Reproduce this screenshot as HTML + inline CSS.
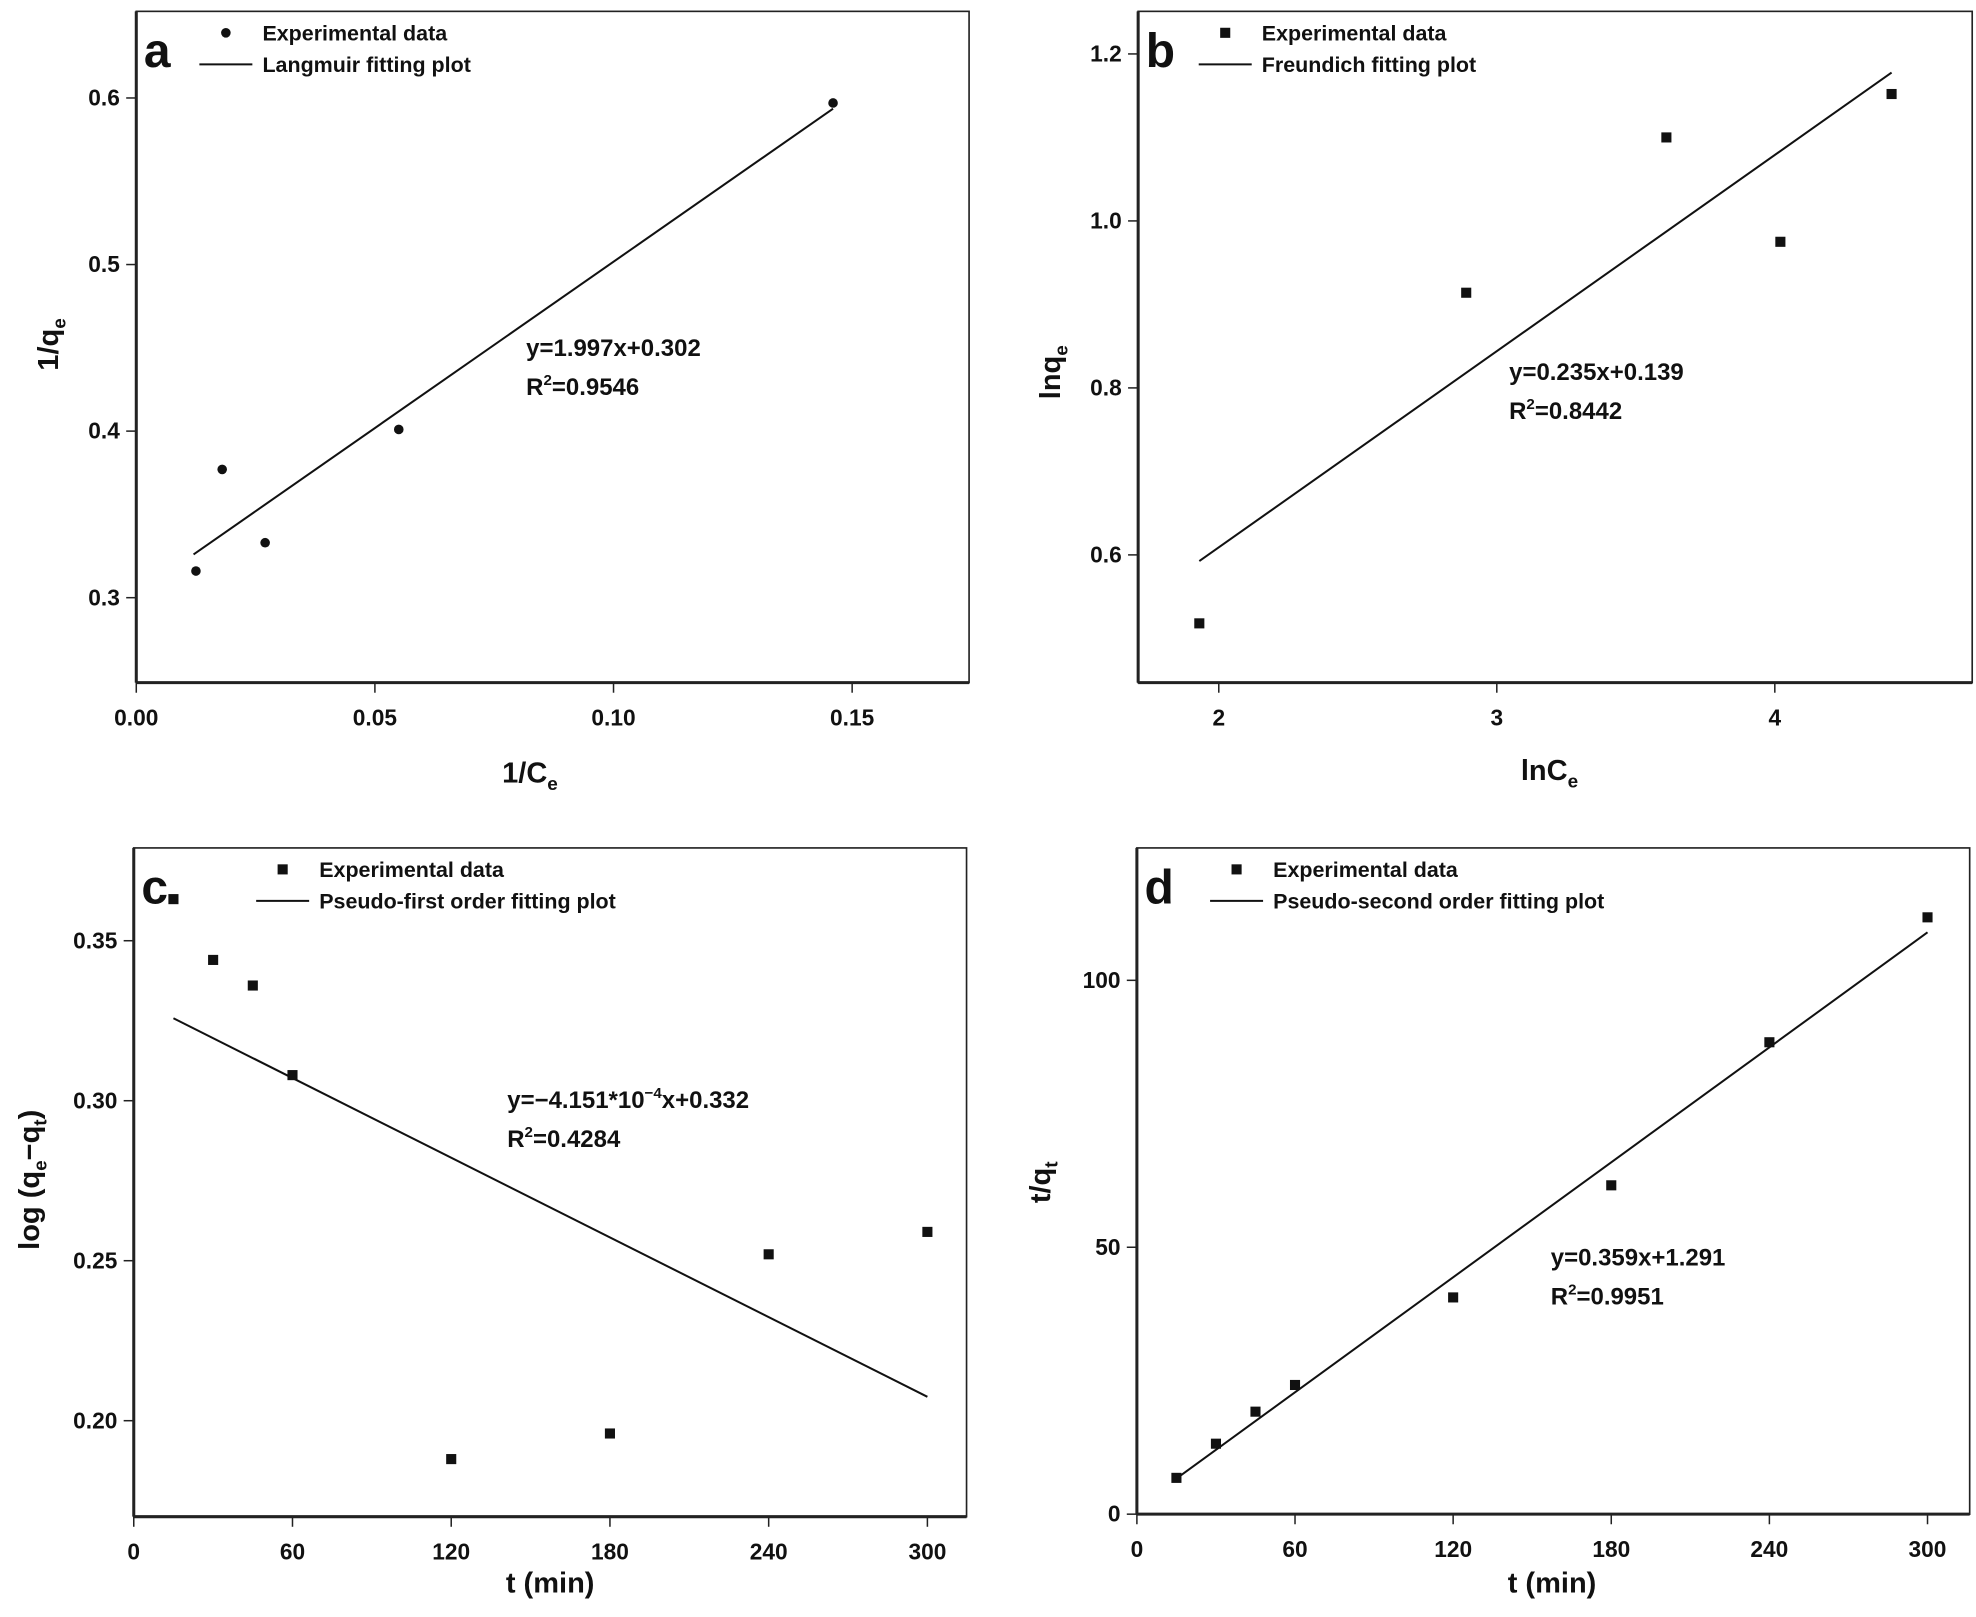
<!DOCTYPE html>
<html><head><meta charset="utf-8"><style>
html,body{margin:0;padding:0;background:#fff}
svg{display:block}
text{font-family:"Liberation Sans",Arial,sans-serif;fill:#111}
</style></head><body>
<svg id="fig" width="1976" height="1617" viewBox="0 0 1566 1281.5" xmlns="http://www.w3.org/2000/svg"></svg>
<script>
// Panel a: Langmuir
const aX = [0.0125, 0.018, 0.027, 0.055, 0.146];
const aY = [0.316, 0.377, 0.333, 0.401, 0.597];
const aFitX = [0.012, 0.146];
const aFitSlope = 1.997, aFitIntercept = 0.302;
const aXTicks = [0, 0.05, 0.10, 0.15];
const aXTickLabels = ["0.00", "0.05", "0.10", "0.15"];
const aYTicks = [0.3, 0.4, 0.5, 0.6];
const aYTickLabels = ["0.3", "0.4", "0.5", "0.6"];
// Panel b: Freundlich
const bX = [1.93, 2.89, 3.61, 4.02, 4.42];
const bY = [0.518, 0.914, 1.100, 0.975, 1.152];
const bFitX = [1.93, 4.42];
const bFitSlope = 0.235, bFitIntercept = 0.139;
const bXTicks = [2, 3, 4];
const bXTickLabels = ["2", "3", "4"];
const bYTicks = [0.6, 0.8, 1.0, 1.2];
const bYTickLabels = ["0.6", "0.8", "1.0", "1.2"];
// Panel c: pseudo-first order
const cX = [15, 30, 45, 60, 120, 180, 240, 300];
const cY = [0.363, 0.344, 0.336, 0.308, 0.188, 0.196, 0.252, 0.259];
const cFitX = [15, 300];
const cFitSlope = -4.151e-4, cFitIntercept = 0.332;
const cXTicks = [0, 60, 120, 180, 240, 300];
const cXTickLabels = ["0", "60", "120", "180", "240", "300"];
const cYTicks = [0.20, 0.25, 0.30, 0.35];
const cYTickLabels = ["0.20", "0.25", "0.30", "0.35"];
// Panel d: pseudo-second order
const dX = [15, 30, 45, 60, 120, 180, 240, 300];
const dY = [6.8, 13.2, 19.2, 24.2, 40.6, 61.6, 88.4, 111.8];
const dFitX = [15, 300];
const dFitSlope = 0.359, dFitIntercept = 1.291;
const dXTicks = [0, 60, 120, 180, 240, 300];
const dXTickLabels = ["0", "60", "120", "180", "240", "300"];
const dYTicks = [0, 50, 100];
const dYTickLabels = ["0", "50", "100"];

const NS = "http://www.w3.org/2000/svg";
const svg = document.getElementById("fig");
function mk(tag, attrs, parent, txt) {
  const e = document.createElementNS(NS, tag);
  for (const k in attrs) e.setAttribute(k, attrs[k]);
  if (txt !== undefined) e.innerHTML = txt;
  (parent || svg).appendChild(e);
  return e;
}

function panel(p) {
  const g = mk("g", {});
  
  
  const sx = v => p.L + (v - p.xmin) / (p.xmax - p.xmin) * (p.R - p.L);
  const sy = v => p.B - (v - p.ymin) / (p.ymax - p.ymin) * (p.B - p.T);
  // frame
  const fr = mk("rect", {x: p.L, y: p.T, width: p.R - p.L, height: p.B - p.T, fill: "none", stroke: "#222", "stroke-width": 1.3}, g);
  
  
  mk("line", {x1: p.L, y1: p.B, x2: p.R, y2: p.B, stroke: "#222", "stroke-width": 2.4}, g);
  mk("line", {x1: p.L, y1: p.T, x2: p.L, y2: p.B, stroke: "#222", "stroke-width": 2.4}, g);
  // x ticks
  const xt = mk("g", {}, g);
  
  
  p.xTicks.forEach((v, i) => {
    const x = sx(v);
    mk("line", {x1: x, y1: p.B, x2: x, y2: p.B + 8, stroke: "#222", "stroke-width": 1.2}, xt);
    const t = mk("text", {x: x, y: p.B + 34, "text-anchor": "middle", "font-size": 18, "font-weight": "bold"}, xt, p.xTickLabels[i]);
    
    
  });
  const yt = mk("g", {}, g);
  
  
  p.yTicks.forEach((v, i) => {
    const y = sy(v);
    mk("line", {x1: p.L - 8, y1: y, x2: p.L, y2: y, stroke: "#222", "stroke-width": 1.2}, yt);
    const t = mk("text", {x: p.L - 13, y: y + 6, "text-anchor": "end", "font-size": 18, "font-weight": "bold"}, yt, p.yTickLabels[i]);
    
    
  });
  // fit line
  const fl = mk("line", {x1: sx(p.fitX[0]), y1: sy(p.slope * p.fitX[0] + p.icpt), x2: sx(p.fitX[1]), y2: sy(p.slope * p.fitX[1] + p.icpt), stroke: "#111", "stroke-width": 1.6}, g);
  
  
  // points
  p.xs.forEach((v, i) => {
    let m;
    if (p.circle) m = mk("circle", {cx: sx(v), cy: sy(p.ys[i]), r: 3.8, fill: "#111"}, g);
    else m = mk("rect", {x: sx(v) - 4, y: sy(p.ys[i]) - 4, width: 8, height: 8, fill: "#111"}, g);
    
    
  });
  // letter
  const lt = mk("text", {x: p.L + 6, y: p.T + 44, "font-size": 38, "font-weight": "bold"}, g, p.letter);
  
  
  // legend
  const lg = mk("g", {}, g);
  
  
  const lx = p.legX;
  if (p.circle) mk("circle", {cx: lx + 21, cy: p.T + 17, r: 3.8, fill: "#111"}, lg);
  else mk("rect", {x: lx + 17, y: p.T + 13, width: 8, height: 8, fill: "#111"}, lg);
  mk("line", {x1: lx, y1: p.T + 42, x2: lx + 42, y2: p.T + 42, stroke: "#111", "stroke-width": 1.6}, lg);
  const e1 = mk("text", {x: lx + 50, y: p.T + 23, "font-size": 17, "font-weight": "bold"}, lg, "Experimental data");
  
  
  const e2 = mk("text", {x: lx + 50, y: p.T + 48, "font-size": 17, "font-weight": "bold"}, lg, p.fitLabel);
  
  
  // equation
  const q1 = mk("text", {x: p.eqX, y: p.eqY, "font-size": 19, "font-weight": "bold"}, g, p.eq);
  
  
  const q2 = mk("text", {x: p.eqX, y: p.eqY + 31, "font-size": 19, "font-weight": "bold"}, g, p.r2);
  
  
  // axis titles
  const xa = mk("text", {x: p.xtX, y: p.xtY, "text-anchor": "middle", "font-size": 23, "font-weight": "bold"}, g, p.xTitle);
  
  
  const ya = mk("text", {x: 0, y: 0, "text-anchor": "middle", "font-size": 23, "font-weight": "bold", transform: `translate(${p.ytX},${p.ytY}) rotate(-90)`}, g, p.yTitle);
  
  
}

const sub = s => `<tspan font-size="15" dy="6">${s}</tspan>`;
panel({letter: "a", L: 108, R: 768, T: 9, B: 541, xmin: 0, xmax: 0.1745, ymin: 0.249, ymax: 0.652,
  xs: aX, ys: aY, fitX: aFitX, slope: aFitSlope, icpt: aFitIntercept, circle: true,
  xTicks: aXTicks, xTickLabels: aXTickLabels, yTicks: aYTicks, yTickLabels: aYTickLabels,
  legX: 158, fitLabel: "Langmuir fitting plot", eqX: 417, eqY: 282,
  eq: "y=1.997x+0.302", r2: 'R<tspan font-size="12" dy="-8">2</tspan><tspan dy="8">=0.9546</tspan>',
  xTitle: "1/C" + sub("e"), xtX: 420, xtY: 620, yTitle: "1/q" + sub("e"), ytX: 46, ytY: 273});
panel({letter: "b", L: 902, R: 1563, T: 9, B: 541, xmin: 1.71, xmax: 4.71, ymin: 0.447, ymax: 1.251,
  xs: bX, ys: bY, fitX: bFitX, slope: bFitSlope, icpt: bFitIntercept, circle: false,
  xTicks: bXTicks, xTickLabels: bXTickLabels, yTicks: bYTicks, yTickLabels: bYTickLabels,
  legX: 950, fitLabel: "Freundich fitting plot", eqX: 1196, eqY: 301,
  eq: "y=0.235x+0.139", r2: 'R<tspan font-size="12" dy="-8">2</tspan><tspan dy="8">=0.8442</tspan>',
  xTitle: "lnC" + sub("e"), xtX: 1228, xtY: 618, yTitle: "lnq" + sub("e"), ytX: 840, ytY: 295});
panel({letter: "c", L: 106, R: 766, T: 672, B: 1202, xmin: 0, xmax: 314.8, ymin: 0.170, ymax: 0.379,
  xs: cX, ys: cY, fitX: cFitX, slope: cFitSlope, icpt: cFitIntercept, circle: false,
  xTicks: cXTicks, xTickLabels: cXTickLabels, yTicks: cYTicks, yTickLabels: cYTickLabels,
  legX: 203, fitLabel: "Pseudo-first order fitting plot", eqX: 402, eqY: 878,
  eq: 'y=−4.151*10<tspan font-size="12" dy="-8">−4</tspan><tspan dy="8">x+0.332</tspan>', r2: 'R<tspan font-size="12" dy="-8">2</tspan><tspan dy="8">=0.4284</tspan>',
  xTitle: "t (min)", xtX: 436, xtY: 1262, yTitle: "log (q" + sub("e") + '<tspan dy="-6">−q</tspan>' + sub("t") + '<tspan dy="-6">)</tspan>', ytX: 31, ytY: 935});
panel({letter: "d", L: 901, R: 1561, T: 672, B: 1200, xmin: 0, xmax: 316, ymin: 0, ymax: 124.8,
  xs: dX, ys: dY, fitX: dFitX, slope: dFitSlope, icpt: dFitIntercept, circle: false,
  xTicks: dXTicks, xTickLabels: dXTickLabels, yTicks: dYTicks, yTickLabels: dYTickLabels,
  legX: 959, fitLabel: "Pseudo-second order fitting plot", eqX: 1229, eqY: 1003,
  eq: "y=0.359x+1.291", r2: 'R<tspan font-size="12" dy="-8">2</tspan><tspan dy="8">=0.9951</tspan>',
  xTitle: "t (min)", xtX: 1230, xtY: 1262, yTitle: "t/q" + sub("t"), ytX: 832, ytY: 937});
</script>
</body></html>
